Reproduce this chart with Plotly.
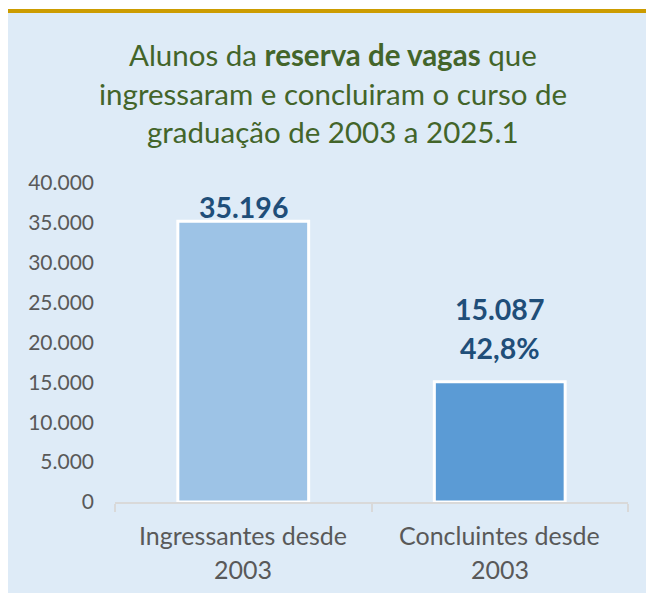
import plotly.graph_objects as go

categories = ["Ingressantes desde 2003", "Concluintes desde 2003"]
cat_line1 = ["Ingressantes desde", "Concluintes desde"]
cat_line2 = ["2003", "2003"]
values = [35196, 15087]
pct_labels = ["", "42,8%"]
bar_colors = ["#9DC3E6", "#5B9BD5"]
title_lines = ["Alunos da <b>reserva de vagas</b> que",
               "ingressaram e concluiram o curso de",
               "graduação de 2003 a 2025.1"]

W, H = 646, 585
L, R, T, B = 107, 26, 175, 91
pw, ph = W - L - R, H - T - B

def px_x(px):
    return (px - L) / pw

def px_y(py):
    return (H - B - py) / ph

FONT = "Lato"
fig = go.Figure()
fig.add_trace(go.Bar(
    x=categories, y=values,
    marker=dict(color=bar_colors, line=dict(color="white", width=3)),
    width=0.51, hoverinfo="skip",
))

shapes = [
    dict(type="rect", xref="paper", yref="paper", x0=px_x(-2), x1=px_x(W + 2),
         y0=px_y(1), y1=px_y(-2), fillcolor="white", line_width=0, layer="below"),
    dict(type="rect", xref="paper", yref="paper", x0=px_x(-2), x1=px_x(W + 2),
         y0=px_y(5), y1=px_y(1), fillcolor="#CC9C00", line_width=0, layer="below"),
]

ann = []
title_y = [46, 85.5, 124]
for line, yc in zip(title_lines, title_y):
    ann.append(dict(text=line, xref="paper", yref="paper", x=px_x(324.5), y=px_y(yc),
                    xanchor="center", yanchor="middle", showarrow=False,
                    font=dict(family=FONT, size=29.5, color="#43652A")))

for c, l1, l2 in zip(categories, cat_line1, cat_line2):
    ann.append(dict(text=l1, xref="x", yref="paper", x=c, y=px_y(527),
                    xanchor="center", yanchor="middle", showarrow=False,
                    font=dict(family=FONT, size=25, color="#595959")))
    ann.append(dict(text=l2, xref="x", yref="paper", x=c, y=px_y(560.5),
                    xanchor="center", yanchor="middle", showarrow=False,
                    font=dict(family=FONT, size=25, color="#595959")))

LBL = 28.5
for c, v, p in zip(categories, values, pct_labels):
    val_txt = f"{v:,}".replace(",", ".")
    if p:
        ann.append(dict(text=f"<b>{p}</b>", xref="x", yref="y", x=c, y=v,
                        xanchor="center", yanchor="middle", yshift=34, showarrow=False,
                        font=dict(family=FONT, size=LBL, color="#1F4E79")))
        ann.append(dict(text=f"<b>{val_txt}</b>", xref="x", yref="y", x=c, y=v,
                        xanchor="center", yanchor="middle", yshift=73, showarrow=False,
                        font=dict(family=FONT, size=LBL, color="#1F4E79")))
    else:
        ann.append(dict(text=f"<b>{val_txt}</b>", xref="x", yref="y", x=c, y=v,
                        xanchor="center", yanchor="middle", yshift=14, showarrow=False,
                        font=dict(family=FONT, size=LBL, color="#1F4E79")))

fig.update_layout(
    width=W, height=H,
    margin=dict(l=L, r=R, t=T, b=B),
    paper_bgcolor="#DEEBF7", plot_bgcolor="rgba(0,0,0,0)",
    separators=",.",
    showlegend=False,
    shapes=shapes, annotations=ann,
    xaxis=dict(showticklabels=False, showline=True, linecolor="#D9D9D9", linewidth=1.5,
               ticks="outside", tickson="boundaries", ticklen=8, tickcolor="#D9D9D9",
               tickwidth=1.5, showgrid=False, zeroline=False, fixedrange=True),
    yaxis=dict(range=[0, 40000], dtick=5000, tickformat=",d", showgrid=False,
               zeroline=False, showline=False, ticks="", ticklabelstandoff=20,
               tickfont=dict(family=FONT, size=21, color="#595959"), fixedrange=True),
)

fig.write_html("out.html")
